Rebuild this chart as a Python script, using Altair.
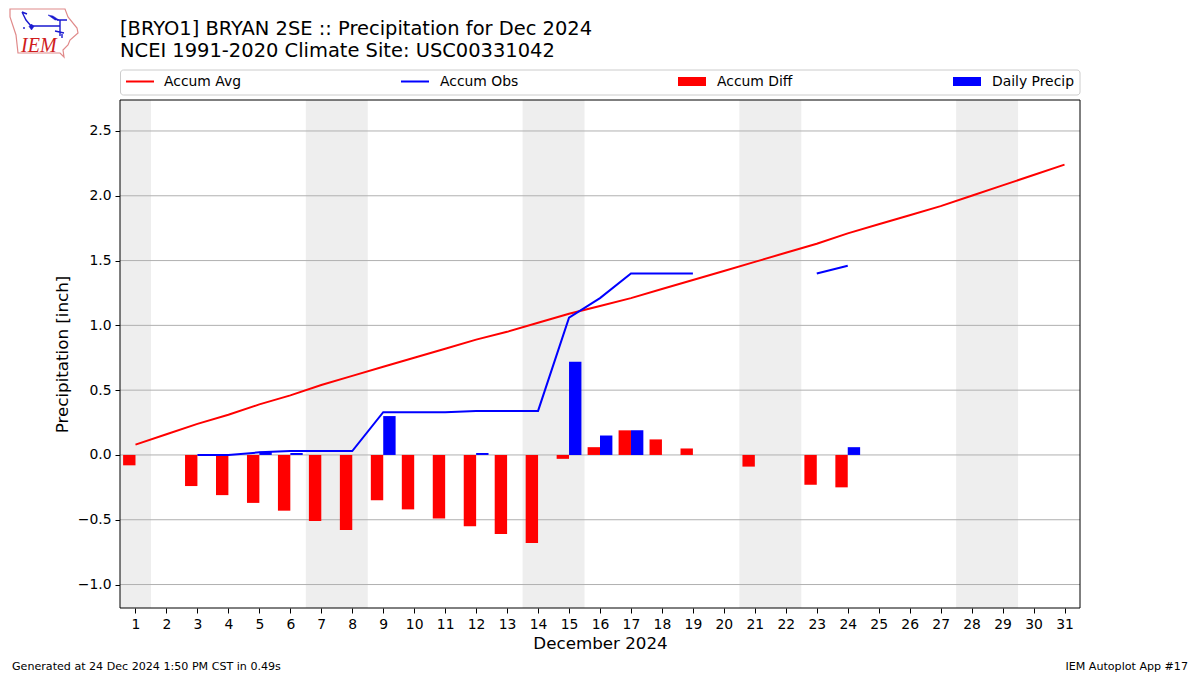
import altair as alt
import pandas as pd

FONT = "DejaVu Sans"

days = list(range(1, 32))
accum_avg = [0.08, 0.16, 0.24, 0.31, 0.39, 0.46, 0.54, 0.61, 0.68, 0.75, 0.82, 0.89, 0.95, 1.02, 1.09, 1.15,
             1.21, 1.28, 1.35, 1.42, 1.49, 1.56, 1.63, 1.71, 1.78, 1.85, 1.92, 2.00, 2.08, 2.16, 2.24]
accum_obs = [None, None, 0.0, 0.0, 0.02, 0.03, 0.03, 0.03, 0.33, 0.33, 0.33, 0.34, 0.34, 0.34, 1.06, 1.21,
             1.40, 1.40, 1.40, None, None, None, 1.40, 1.46, None, None, None, None, None, None, None]
accum_diff = [-0.08, None, -0.24, -0.31, -0.37, -0.43, -0.51, -0.58, -0.35, -0.42, -0.49, -0.55, -0.61, -0.68,
              -0.03, 0.06, 0.19, 0.12, 0.05, None, -0.09, None, -0.23, -0.25, None, None, None, None, None, None, None]
daily = [None, None, None, None, 0.025, 0.015, None, None, 0.30, None, None, 0.015, None, None, 0.72, 0.15,
         0.19, None, None, None, None, None, None, 0.06, None, None, None, None, None, None, None]
weekend_start = [0.5, 6.5, 13.5, 20.5, 27.5]
weekend_end = [1.5, 8.5, 15.5, 22.5, 29.5]
y_ticks = [-1.0, -0.5, 0.0, 0.5, 1.0, 1.5, 2.0, 2.5]
title_lines = ["[BRYO1] BRYAN 2SE :: Precipitation for Dec 2024", "NCEI 1991-2020 Climate Site: USC00331042"]
BAR = 0.4

df = pd.DataFrame({"day": days, "avg": accum_avg, "obs": accum_obs, "diff": accum_diff, "daily": daily})
df["l"] = df["day"] - BAR
df["r"] = df["day"] + BAR
df["zero"] = 0.0
bands = pd.DataFrame({"a": weekend_start, "b": weekend_end})
grid = pd.DataFrame({"t": y_ticks})

xs = alt.Scale(domain=[0.5, 31.5], nice=False, zero=False)
ys = alt.Scale(domain=[-1.181, 2.739], nice=False, zero=False)

xax = alt.Axis(values=days, format="d", title="December 2024", grid=False, labelFont=FONT, labelFontSize=13.9,
               labelColor="black", labelOverlap=False, labelFlush=False, labelAngle=0, labelPadding=4,
               tickColor="black", tickSize=5, tickWidth=1, domain=False,
               titleFont=FONT, titleFontSize=16.7, titleFontWeight="normal", titleColor="black", titlePadding=5)
yax = alt.Axis(values=y_ticks, labelExpr="replace(format(datum.value,'.1f'),'-','\u2212')", title="Precipitation [inch]",
               grid=False, labelFont=FONT, labelFontSize=13.9, labelColor="black", labelPadding=4,
               tickColor="black", tickSize=5, tickWidth=1, domain=False,
               titleFont=FONT, titleFontSize=16.7, titleFontWeight="normal", titleColor="black", titlePadding=6)

band_layer = alt.Chart(bands).mark_rect(color="#eeeeee").encode(
    x=alt.X("a:Q", scale=xs, axis=xax), x2="b:Q",
    y=alt.value(0), y2=alt.value(508))
grid_layer = alt.Chart(grid).mark_rule(color="#b0b0b0", strokeWidth=1).encode(
    y=alt.Y("t:Q", scale=ys, axis=yax))
diff_layer = alt.Chart(df.dropna(subset=["diff"])).mark_rect(color="#ff0000").encode(
    x=alt.X("l:Q", scale=xs, axis=xax), x2="day:Q", y=alt.Y("diff:Q", scale=ys, axis=yax), y2="zero:Q")
daily_layer = alt.Chart(df.dropna(subset=["daily"])).mark_rect(color="#0000ff").encode(
    x=alt.X("day:Q", scale=xs, axis=xax), x2="r:Q", y=alt.Y("daily:Q", scale=ys, axis=yax), y2="zero:Q")
avg_layer = alt.Chart(df).mark_line(color="#ff0000", strokeWidth=2).encode(
    x=alt.X("day:Q", scale=xs, axis=xax), y=alt.Y("avg:Q", scale=ys, axis=yax))
obs_layer = alt.Chart(df).mark_line(color="#0000ff", strokeWidth=2).encode(
    x=alt.X("day:Q", scale=xs, axis=xax), y=alt.Y("obs:Q", scale=ys, axis=yax))
frame = alt.Chart().mark_rect(filled=False, stroke="black", strokeWidth=1).encode(
    x=alt.value(0), x2=alt.value(960), y=alt.value(0), y2=alt.value(508))

OX, OY = 120, 100


def text(s, px, py, size, color="black", font=FONT, align="left", baseline="middle", style="normal"):
    return alt.Chart().mark_text(text=s, font=font, fontSize=size, color=color, align=align,
                                 baseline=baseline, fontStyle=style).encode(
        x=alt.value(px - OX), y=alt.value(py - OY))


legend_box = alt.Chart().mark_rect(fill="white", stroke="#cccccc", strokeWidth=1, cornerRadius=3).encode(
    x=alt.value(0.5), x2=alt.value(960), y=alt.value(70 - OY), y2=alt.value(95 - OY))
legend = [legend_box]
for name, color, kind, sx, tx in [("Accum Avg", "#ff0000", "line", 126, 164),
                                  ("Accum Obs", "#0000ff", "line", 401, 440),
                                  ("Accum Diff", "#ff0000", "bar", 678, 717),
                                  ("Daily Precip", "#0000ff", "bar", 953, 992)]:
    if kind == "line":
        legend.append(alt.Chart().mark_rule(color=color, strokeWidth=2).encode(
            x=alt.value(sx - OX), x2=alt.value(sx + 28 - OX), y=alt.value(81.5 - OY)))
    else:
        legend.append(alt.Chart().mark_rect(color=color).encode(
            x=alt.value(sx - OX), x2=alt.value(sx + 28 - OX), y=alt.value(77 - OY), y2=alt.value(86 - OY)))
    legend.append(text(name, tx, 81.5, 13.9))

iowa = "M10 9L65 9L68 17L77 28L78 33L70 40L68 45L63 50L64 57L60 53L18 53L16 35L10 17Z"
logo_blue = "M22 12L26 20L31 26L60 26M60 20L60 36M67 20L57 20M22 12L27 14M24 27L24 29M55 31L64 33M62 34L62 38"
logo_fill = "M48 15L53 16L59 20L55 20ZM29 26.5L31.5 24L34 26.5L31.5 30Z"
logo = [
    alt.Chart().mark_point(shape=iowa, size=4, filled=False, stroke="#e08a8a", strokeWidth=1.2, opacity=1).encode(
        x=alt.value(-OX), y=alt.value(-OY)),
    alt.Chart().mark_point(shape=logo_blue, size=4, filled=False, stroke="#1a1ad0", strokeWidth=1.4, opacity=1).encode(
        x=alt.value(-OX), y=alt.value(-OY)),
    alt.Chart().mark_point(shape=logo_fill, size=4, filled=True, fill="#1a1ad0", stroke="#1a1ad0", strokeWidth=0.5, opacity=1).encode(
        x=alt.value(-OX), y=alt.value(-OY)),
    text("IEM", 21, 52, 20, color="#d01c1c", font="Liberation Serif", baseline="alphabetic", style="italic"),
]

titles = [text(title_lines[0], 120, 29, 19.47), text(title_lines[1], 120, 51, 19.47)]

footer = [
    text("Generated at 24 Dec 2024 1:50 PM CST in 0.49s", 12, 667, 11.1),
    text("IEM Autoplot App #17", 1188, 667, 11.1, align="right"),
]

chart = alt.layer(band_layer, grid_layer, diff_layer, daily_layer, avg_layer, obs_layer, frame,
                  *legend, *logo, *titles, *footer).properties(
    width=960, height=508,
    autosize=alt.AutoSizeParams(type="none"),
    padding={"left": 112, "top": 92, "right": 112, "bottom": 66},
).configure_view(stroke=None)

chart.save("out.html", embed_options={"renderer": "svg", "actions": False})
